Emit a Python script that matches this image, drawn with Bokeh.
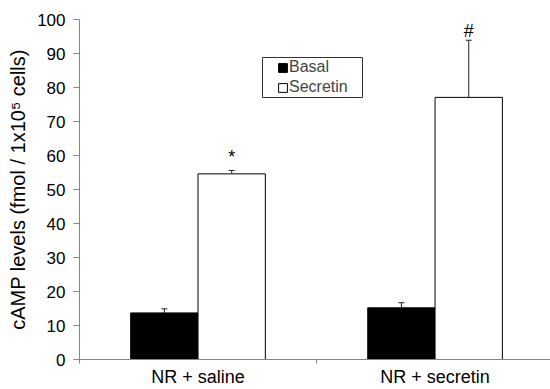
from bokeh.plotting import figure
from bokeh.models import (ColumnDataSource, Range1d, FixedTicker, Whisker, TeeHead,
                          Legend, LegendItem, BoxAnnotation)
from bokeh.core.properties import value
from bokeh.embed import file_html
from bokeh.resources import INLINE

# ---- data ----
groups = ["NR + saline", "NR + secretin"]
group_pos = [0.5, 1.5]
basal = [13.7, 15.2]
basal_err = [1.2, 1.5]
secretin = [54.6, 77.1]
secretin_err = [1.0, 16.8]
annotations = ["*", "#"]
annotation_y = [59.5, 96.6]
y_ticks = [0, 10, 20, 30, 40, 50, 60, 70, 80, 90, 100]

BAR_W = 0.284
FONT = "Liberation Sans"

bx = [g - BAR_W / 2 for g in group_pos]
sx = [g + BAR_W / 2 for g in group_pos]

src_b = ColumnDataSource(dict(x=bx, top=basal, up=[v + e for v, e in zip(basal, basal_err)]))
src_s = ColumnDataSource(dict(x=sx, top=secretin, up=[v + e for v, e in zip(secretin, secretin_err)],
                              ann=annotations, ay=annotation_y))

p = figure(width=550, height=389, output_backend="svg", toolbar_location=None,
           x_range=Range1d(0, 1.987), y_range=Range1d(0, 100),
           min_border_left=79, min_border_right=0, min_border_top=19, min_border_bottom=30)
p.outline_line_color = None
p.grid.visible = False
p.background_fill_color = "white"
p.border_fill_color = "white"

rb = p.vbar(x="x", top="top", width=BAR_W, bottom=0, source=src_b,
            fill_color="black", line_color="black", line_width=1)
rs = p.vbar(x="x", top="top", width=BAR_W, bottom=0, source=src_s,
            fill_color="white", line_color="black", line_width=1)

for src in (src_b, src_s):
    w = Whisker(source=src, base="x", lower="top", upper="up", dimension="height",
                line_color="#222222", line_width=1,
                upper_head=TeeHead(size=6, line_color="#222222", line_width=1),
                lower_head=None)
    p.add_layout(w)

p.text(x="x", y="ay", text="ann", source=src_s, text_align="center",
       text_baseline="alphabetic", text_font=value(FONT), text_font_size="18px",
       text_color="black")

# legend frame + legend
frame_box = BoxAnnotation(left=183, right=283, bottom=262, top=302,
                          left_units="screen", right_units="screen",
                          bottom_units="screen", top_units="screen",
                          fill_color="white", fill_alpha=1,
                          line_color="#333333", line_width=1, line_alpha=1)
p.add_layout(frame_box)

legend = Legend(items=[LegendItem(label="Basal", renderers=[rb]),
                       LegendItem(label="Secretin", renderers=[rs])],
                location=(198, 262), padding=0, margin=0, spacing=0,
                glyph_width=11, glyph_height=11, label_height=20,
                label_standoff=1, label_text_line_height=1.0,
                label_text_font=FONT, label_text_font_size="16px",
                border_line_alpha=0, background_fill_alpha=0)
p.add_layout(legend, "center")

# axes
AX = "#868686"
ya = p.yaxis[0]
ya.ticker = FixedTicker(ticks=y_ticks)
ya.axis_line_color = AX
ya.major_tick_line_color = AX
ya.minor_tick_line_color = None
ya.major_tick_out = 6
ya.major_tick_in = 0
ya.major_label_standoff = 8
ya.major_label_text_font = FONT
ya.major_label_text_font_size = "17px"
ya.major_label_text_color = "black"
ya.axis_label = "cAMP levels (fmol / 1x10\u2075 cells)"
ya.axis_label_text_font = FONT
ya.axis_label_text_font_size = "20px"
ya.axis_label_text_font_style = "normal"
ya.axis_label_text_color = "black"
ya.axis_label_standoff = 5

xa = p.xaxis[0]
xa.ticker = FixedTicker(ticks=group_pos, minor_ticks=[0, 1, 2])
xa.major_label_overrides = {gp: g for gp, g in zip(group_pos, groups)}
xa.axis_line_color = AX
xa.major_tick_line_color = None
xa.major_tick_out = 0
xa.major_tick_in = 0
xa.minor_tick_line_color = AX
xa.minor_tick_out = 4
xa.minor_tick_in = 0
xa.major_label_standoff = 3
xa.major_label_text_font = FONT
xa.major_label_text_font_size = "18px"
xa.major_label_text_color = "black"

open("out.html", "w").write(file_html(p, INLINE))
